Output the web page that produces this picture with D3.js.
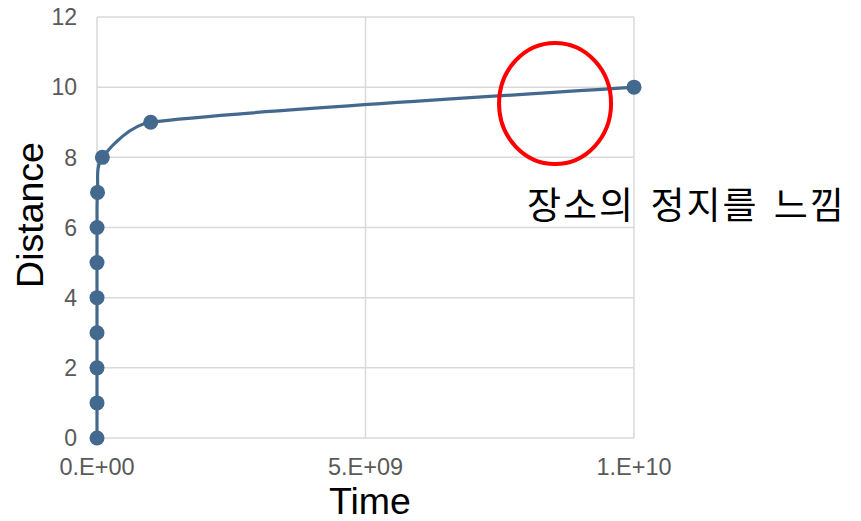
<!DOCTYPE html>
<html><head><meta charset="utf-8">
<script src="https://cdn.jsdelivr.net/npm/d3@7"></script>
<style>body{margin:0;background:#fff}svg{display:block}</style>
</head><body>
<svg id="c" width="861" height="521"></svg>
<script>
const times = [1, 10, 100, 1e3, 1e4, 1e5, 1e6, 1e7, 1e8, 1e9, 1e10];
const distances = [0, 1, 2, 3, 4, 5, 6, 7, 8, 9, 10];
const xTicks = [0, 5e9, 1e10];
const xTickLabels = ["0.E+00", "5.E+09", "1.E+10"];
const yTicks = [0, 2, 4, 6, 8, 10, 12];
const xTitle = "Time", yTitle = "Distance";
const note = "장소의 정지를 느낌";
const highlight = {t: 8.53e9, d: 9.535, rt: 1.043e9, rd: 1.725};

const svg = d3.select("#c");
const x = d3.scaleLinear().domain([0, 1e10]).range([97, 634]);
const y = d3.scaleLinear().domain([0, 12]).range([438, 17]);
const grid = "#d9d9d9";

svg.append("g").selectAll("line").data(yTicks).join("line")
  .attr("x1", x(0)).attr("x2", x(1e10)).attr("y1", d=>y(d)).attr("y2", d=>y(d))
  .attr("stroke", grid).attr("stroke-width", 1.5);
svg.append("g").selectAll("line").data(xTicks).join("line")
  .attr("y1", y(0)).attr("y2", y(12)).attr("x1", d=>x(d)).attr("x2", d=>x(d))
  .attr("stroke", grid).attr("stroke-width", 1.5);

const font = "Liberation Sans, Arial, sans-serif";
svg.append("g").selectAll("text").data(yTicks).join("text")
  .attr("x", 77).attr("y", d=>y(d)).attr("dy", "0.36em").attr("text-anchor", "end")
  .attr("font-family", font).attr("font-size", 23).attr("fill", "#595959").text(d=>d);
svg.append("g").selectAll("text").data(xTicks).join("text")
  .attr("x", d=>x(d)).attr("y", 475).attr("text-anchor", "middle")
  .attr("font-family", font).attr("font-size", 23.5).attr("fill", "#595959")
  .text((d,i)=>xTickLabels[i]);

svg.append("text").attr("x", 370).attr("y", 514).attr("text-anchor", "middle")
  .attr("font-family", font).attr("font-size", 37.5).attr("fill", "#000").text(xTitle);
svg.append("text").attr("transform", "translate(43,215) rotate(-90)").attr("text-anchor", "middle")
  .attr("font-family", font).attr("font-size", 37.5).attr("fill", "#000").text(yTitle);

// smoothed line (Excel-like): Catmull-Rom tangents, limited by segment length
const P = times.map((t,i)=>[x(t), y(distances[i])]);
function sub(a,b){return [a[0]-b[0], a[1]-b[1]];}
function len(v){return Math.hypot(v[0], v[1]);}
function unit(v){const l=len(v)||1; return [v[0]/l, v[1]/l];}
const n = P.length;
const tang = P.map((p,i)=>{
  const a = P[Math.max(0,i-1)], b = P[Math.min(n-1,i+1)];
  return sub(b,a);
});
const path = d3.path();
path.moveTo(P[0][0], P[0][1]);
for (let i=0;i<n-1;i++){
  const a=P[i], b=P[i+1];
  const chord = len(sub(b,a));
  const ta = (i===0) ? sub(b,a) : tang[i];
  const tb = (i+1===n-1) ? sub(b,a) : tang[i+1];
  const la = (i===0) ? chord/6 : Math.min(len(ta)/6, chord/3);
  const lb = (i+1===n-1) ? chord/6 : Math.min(len(tb)/6, chord/3);
  const ua = unit(ta), ub = unit(tb);
  path.bezierCurveTo(a[0]+ua[0]*la, a[1]+ua[1]*la, b[0]-ub[0]*lb, b[1]-ub[1]*lb, b[0], b[1]);
}
svg.append("path").attr("d", path.toString()).attr("fill", "none")
  .attr("stroke", "#44698f").attr("stroke-width", 3.2);
svg.append("g").selectAll("circle").data(times).join("circle")
  .attr("cx", d=>x(d)).attr("cy", (d,i)=>y(distances[i])).attr("r", 7.5).attr("fill", "#44698f");

svg.append("ellipse")
  .attr("cx", x(highlight.t)).attr("cy", y(highlight.d))
  .attr("rx", x(highlight.rt) - x(0)).attr("ry", y(0) - y(highlight.rd))
  .attr("fill", "none").attr("stroke", "#ff0000").attr("stroke-width", 4);

svg.append("text").attr("x", 527).attr("y", 219)
  .attr("font-family", "Noto Sans CJK KR, sans-serif").attr("font-size", 37)
  .attr("letter-spacing", 2).attr("word-spacing", 5)
  .attr("fill", "#000").text(note);
</script>
</body></html>
